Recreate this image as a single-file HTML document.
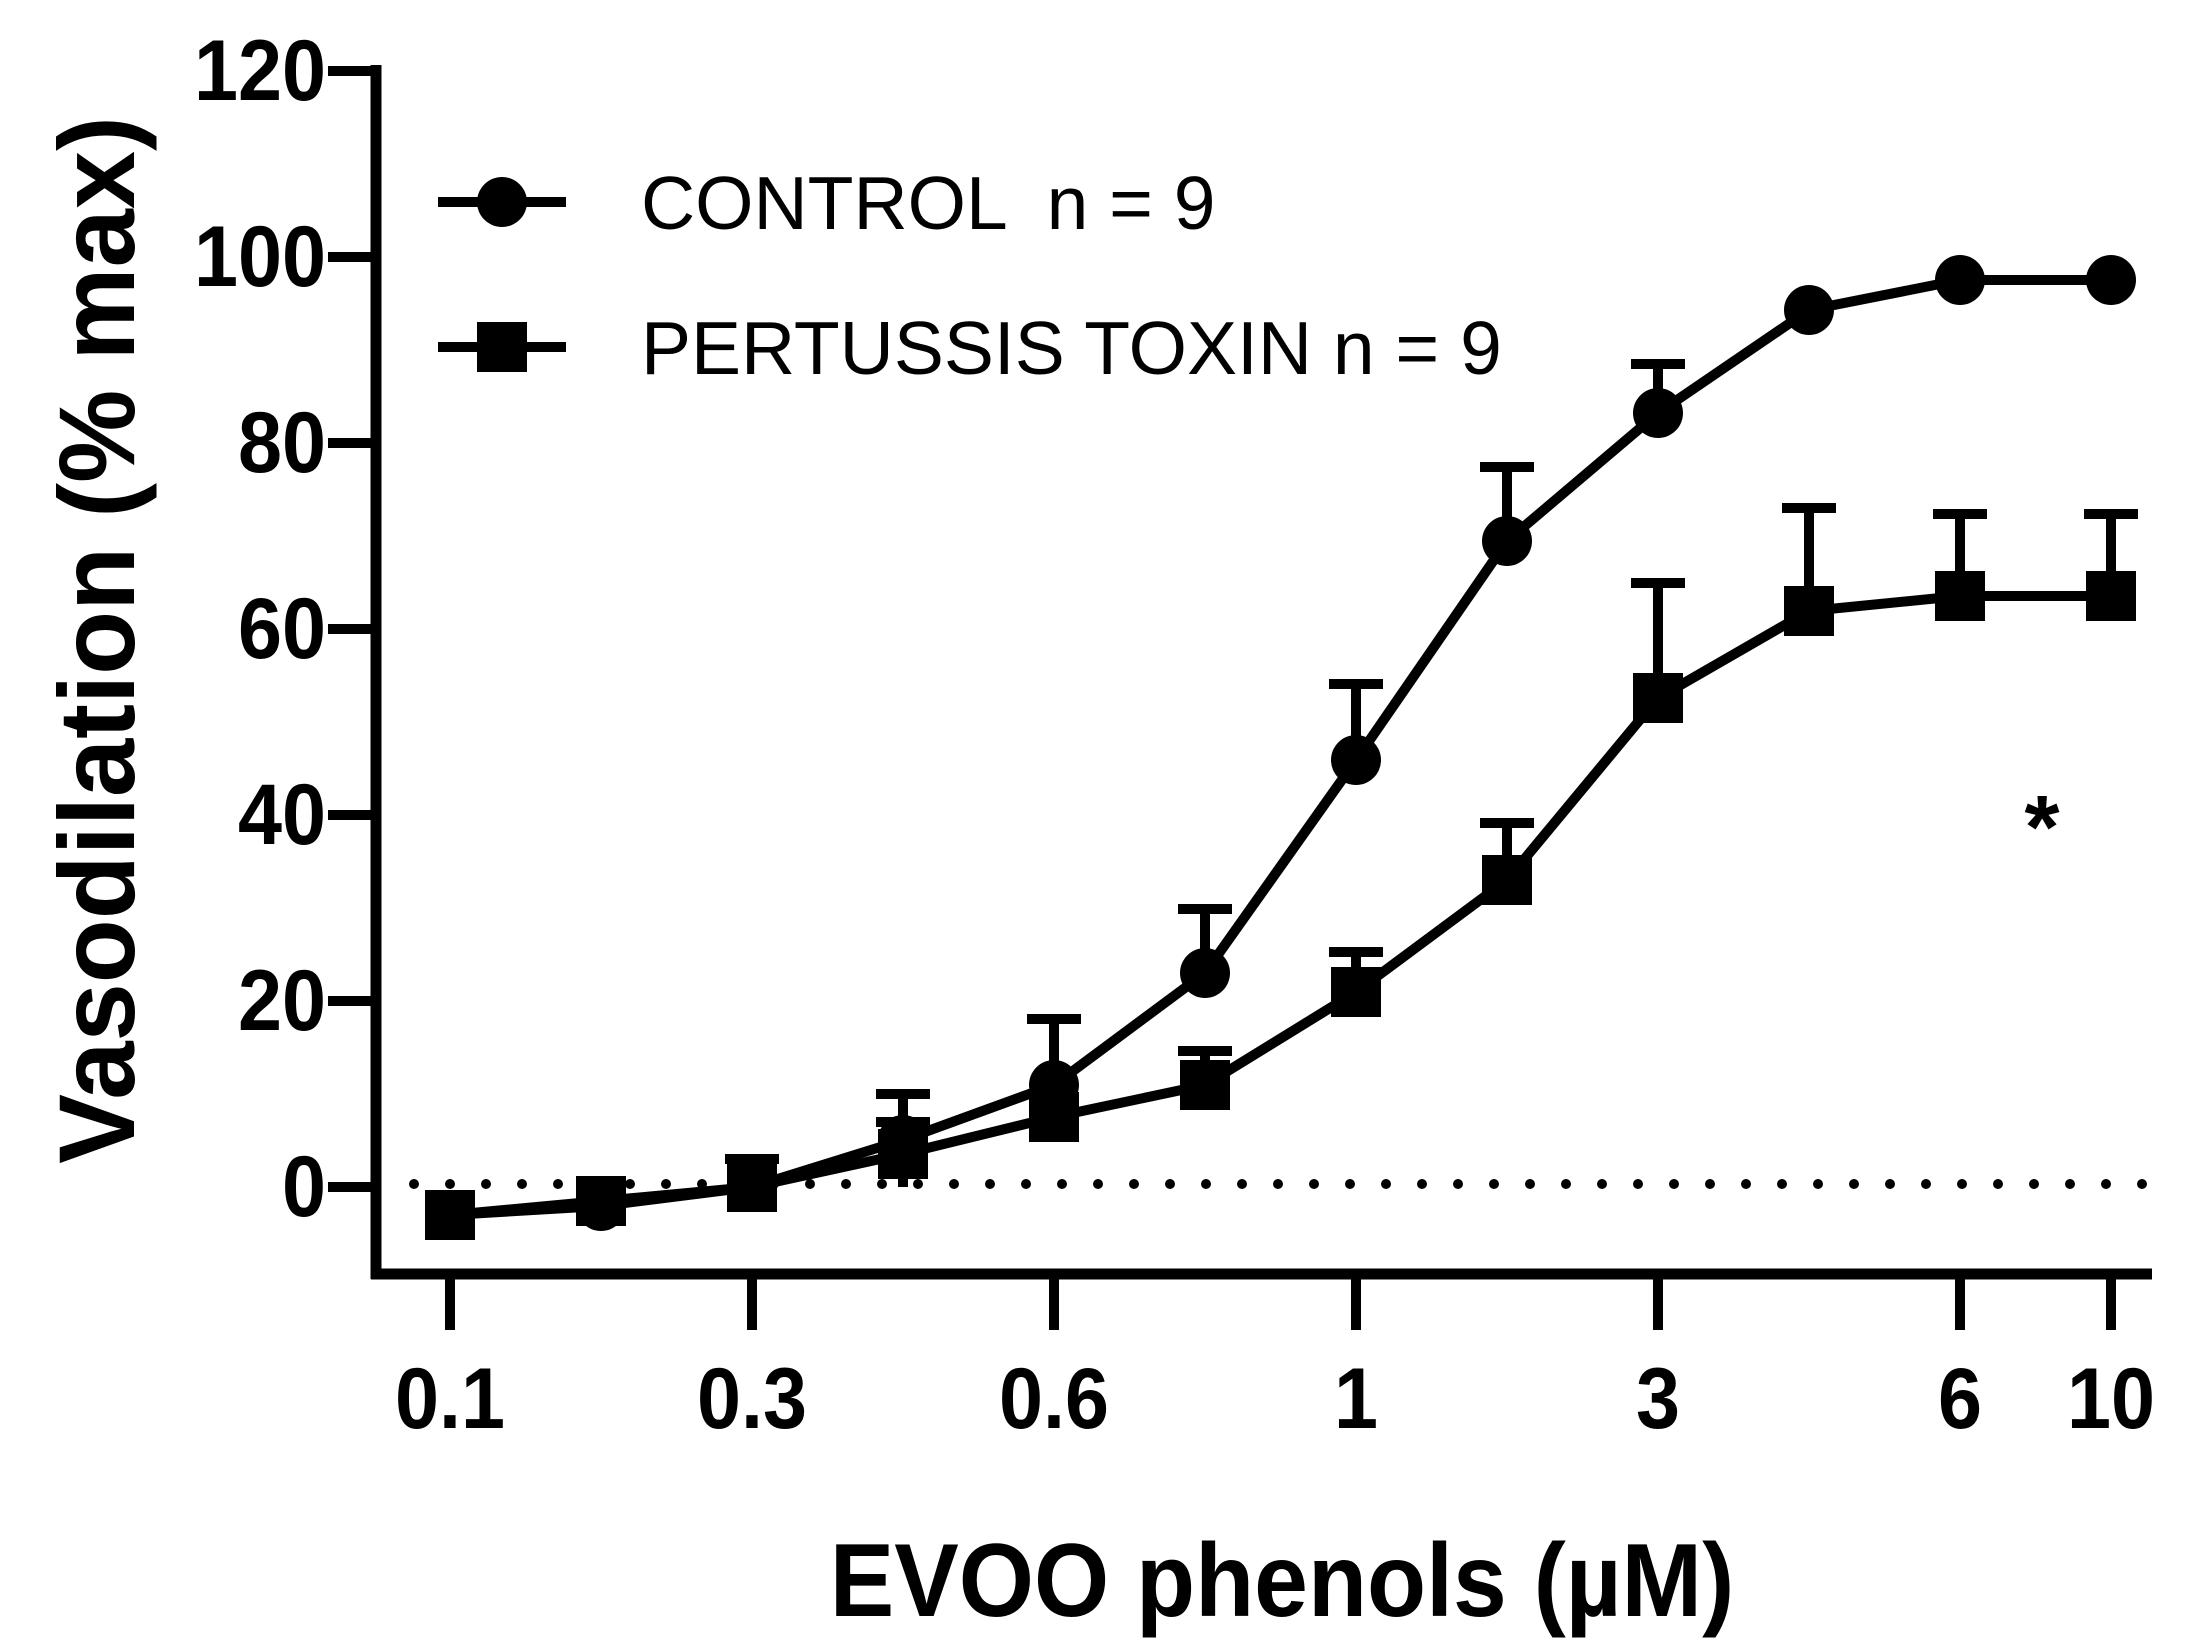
<!DOCTYPE html>
<html><head><meta charset="utf-8"><style>
html,body{margin:0;padding:0;background:#fff;}
svg{display:block;}
text{font-family:"Liberation Sans",Arial,sans-serif;fill:#000;}
</style></head><body>
<svg width="2208" height="1643" viewBox="0 0 2208 1643" xmlns="http://www.w3.org/2000/svg">
<g stroke="#000" stroke-width="11" fill="none">
<line x1="376" y1="65" x2="376" y2="1279"/>
<line x1="371" y1="1274" x2="2152" y2="1274"/>
<g stroke-width="10">
<line x1="328" y1="71" x2="376" y2="71"/>
<line x1="328" y1="257" x2="376" y2="257"/>
<line x1="328" y1="443" x2="376" y2="443"/>
<line x1="328" y1="629" x2="376" y2="629"/>
<line x1="328" y1="815" x2="376" y2="815"/>
<line x1="328" y1="1001" x2="376" y2="1001"/>
<line x1="328" y1="1187" x2="376" y2="1187"/>
<line x1="450" y1="1274" x2="450" y2="1330"/>
<line x1="752" y1="1274" x2="752" y2="1330"/>
<line x1="1054" y1="1274" x2="1054" y2="1330"/>
<line x1="1356" y1="1274" x2="1356" y2="1330"/>
<line x1="1658" y1="1274" x2="1658" y2="1330"/>
<line x1="1960" y1="1274" x2="1960" y2="1330"/>
<line x1="2111" y1="1274" x2="2111" y2="1330"/>
</g>
</g>
<line x1="414" y1="1184" x2="2150" y2="1184" stroke="#000" stroke-width="10" stroke-linecap="round" stroke-dasharray="0 36"/>
<g font-size="86" font-weight="bold" text-anchor="end">
<text transform="translate(326,100) scale(0.92,1)">120</text>
<text transform="translate(326,286) scale(0.92,1)">100</text>
<text transform="translate(326,472) scale(0.92,1)">80</text>
<text transform="translate(326,658) scale(0.92,1)">60</text>
<text transform="translate(326,844) scale(0.92,1)">40</text>
<text transform="translate(326,1030) scale(0.92,1)">20</text>
<text transform="translate(326,1216) scale(0.92,1)">0</text>
</g>
<g font-size="86" font-weight="bold" text-anchor="middle">
<text transform="translate(450,1428) scale(0.92,1)">0.1</text>
<text transform="translate(752,1428) scale(0.92,1)">0.3</text>
<text transform="translate(1054,1428) scale(0.92,1)">0.6</text>
<text transform="translate(1356,1428) scale(0.92,1)">1</text>
<text transform="translate(1658,1428) scale(0.92,1)">3</text>
<text transform="translate(1960,1428) scale(0.92,1)">6</text>
<text transform="translate(2111,1428) scale(0.92,1)">10</text>
</g>
<text transform="translate(1282,1616) scale(0.93,1)" font-size="104" font-weight="bold" text-anchor="middle">EVOO phenols (µM)</text>
<text transform="translate(134,640) rotate(-90) scale(0.97,1)" font-size="108" font-weight="bold" text-anchor="middle">Vasodilation (% max)</text>
<g stroke="#000" stroke-width="10">
<line x1="438" y1="202" x2="566" y2="202"/>
<line x1="438" y1="347" x2="566" y2="347"/>
</g>
<circle cx="502" cy="202" r="25" fill="#000"/>
<rect x="477" y="322" width="50" height="50" fill="#000"/>
<text x="641" y="229" font-size="75" xml:space="preserve">CONTROL  n = 9</text>
<text x="641" y="374" font-size="75">PERTUSSIS TOXIN n = 9</text>
<text x="2042" y="858" font-size="90" font-weight="bold" text-anchor="middle">*</text>
<g stroke="#000" stroke-width="10" fill="none">
<path d="M903 1187V1094M876 1094H930"/>
<path d="M1054 1085V1019M1027 1019H1081"/>
<path d="M1205 973V909M1178 909H1232"/>
<path d="M1356 760V684M1329 684H1383"/>
<path d="M1507 541V467M1480 467H1534"/>
<path d="M1658 406V364M1631 364H1685"/>
<path d="M752 1187V1159M725 1159H779"/>
<path d="M903 1154V1122M876 1122H930"/>
<path d="M1205 1085V1051M1178 1051H1232"/>
<path d="M1356 992V952M1329 952H1383"/>
<path d="M1507 880V823M1480 823H1534"/>
<path d="M1658 698V583M1631 583H1685"/>
<path d="M1809 611V508M1782 508H1836"/>
<path d="M1960 596V514M1933 514H1987"/>
<path d="M2111 596V514M2084 514H2138"/>
</g>
<polyline fill="none" stroke="#000" stroke-width="10" points="450,1215 601,1206 752,1187 903,1140 1054,1085 1205,973 1356,760 1507,541 1658,413 1809,310 1960,280 2111,280"/>
<g fill="#000">
<circle cx="450" cy="1215" r="25"/><circle cx="601" cy="1206" r="25"/><circle cx="752" cy="1187" r="25"/>
<circle cx="903" cy="1140" r="25"/><circle cx="1054" cy="1085" r="25"/><circle cx="1205" cy="973" r="25"/>
<circle cx="1356" cy="760" r="25"/><circle cx="1507" cy="541" r="25"/><circle cx="1658" cy="413" r="25"/>
<circle cx="1809" cy="310" r="25"/><circle cx="1960" cy="280" r="25"/><circle cx="2111" cy="280" r="25"/>
</g>
<polyline fill="none" stroke="#000" stroke-width="10" points="450,1215 601,1201 752,1187 903,1154 1054,1117 1205,1085 1356,992 1507,880 1658,698 1809,611 1960,596 2111,596"/>
<g fill="#000">
<rect x="425" y="1190" width="50" height="50"/><rect x="576" y="1176" width="50" height="50"/><rect x="727" y="1162" width="50" height="50"/>
<rect x="878" y="1129" width="50" height="50"/><rect x="1029" y="1092" width="50" height="50"/><rect x="1180" y="1060" width="50" height="50"/>
<rect x="1331" y="967" width="50" height="50"/><rect x="1482" y="855" width="50" height="50"/><rect x="1633" y="673" width="50" height="50"/>
<rect x="1784" y="586" width="50" height="50"/><rect x="1935" y="571" width="50" height="50"/><rect x="2086" y="571" width="50" height="50"/>
</g>
</svg>
</body></html>
